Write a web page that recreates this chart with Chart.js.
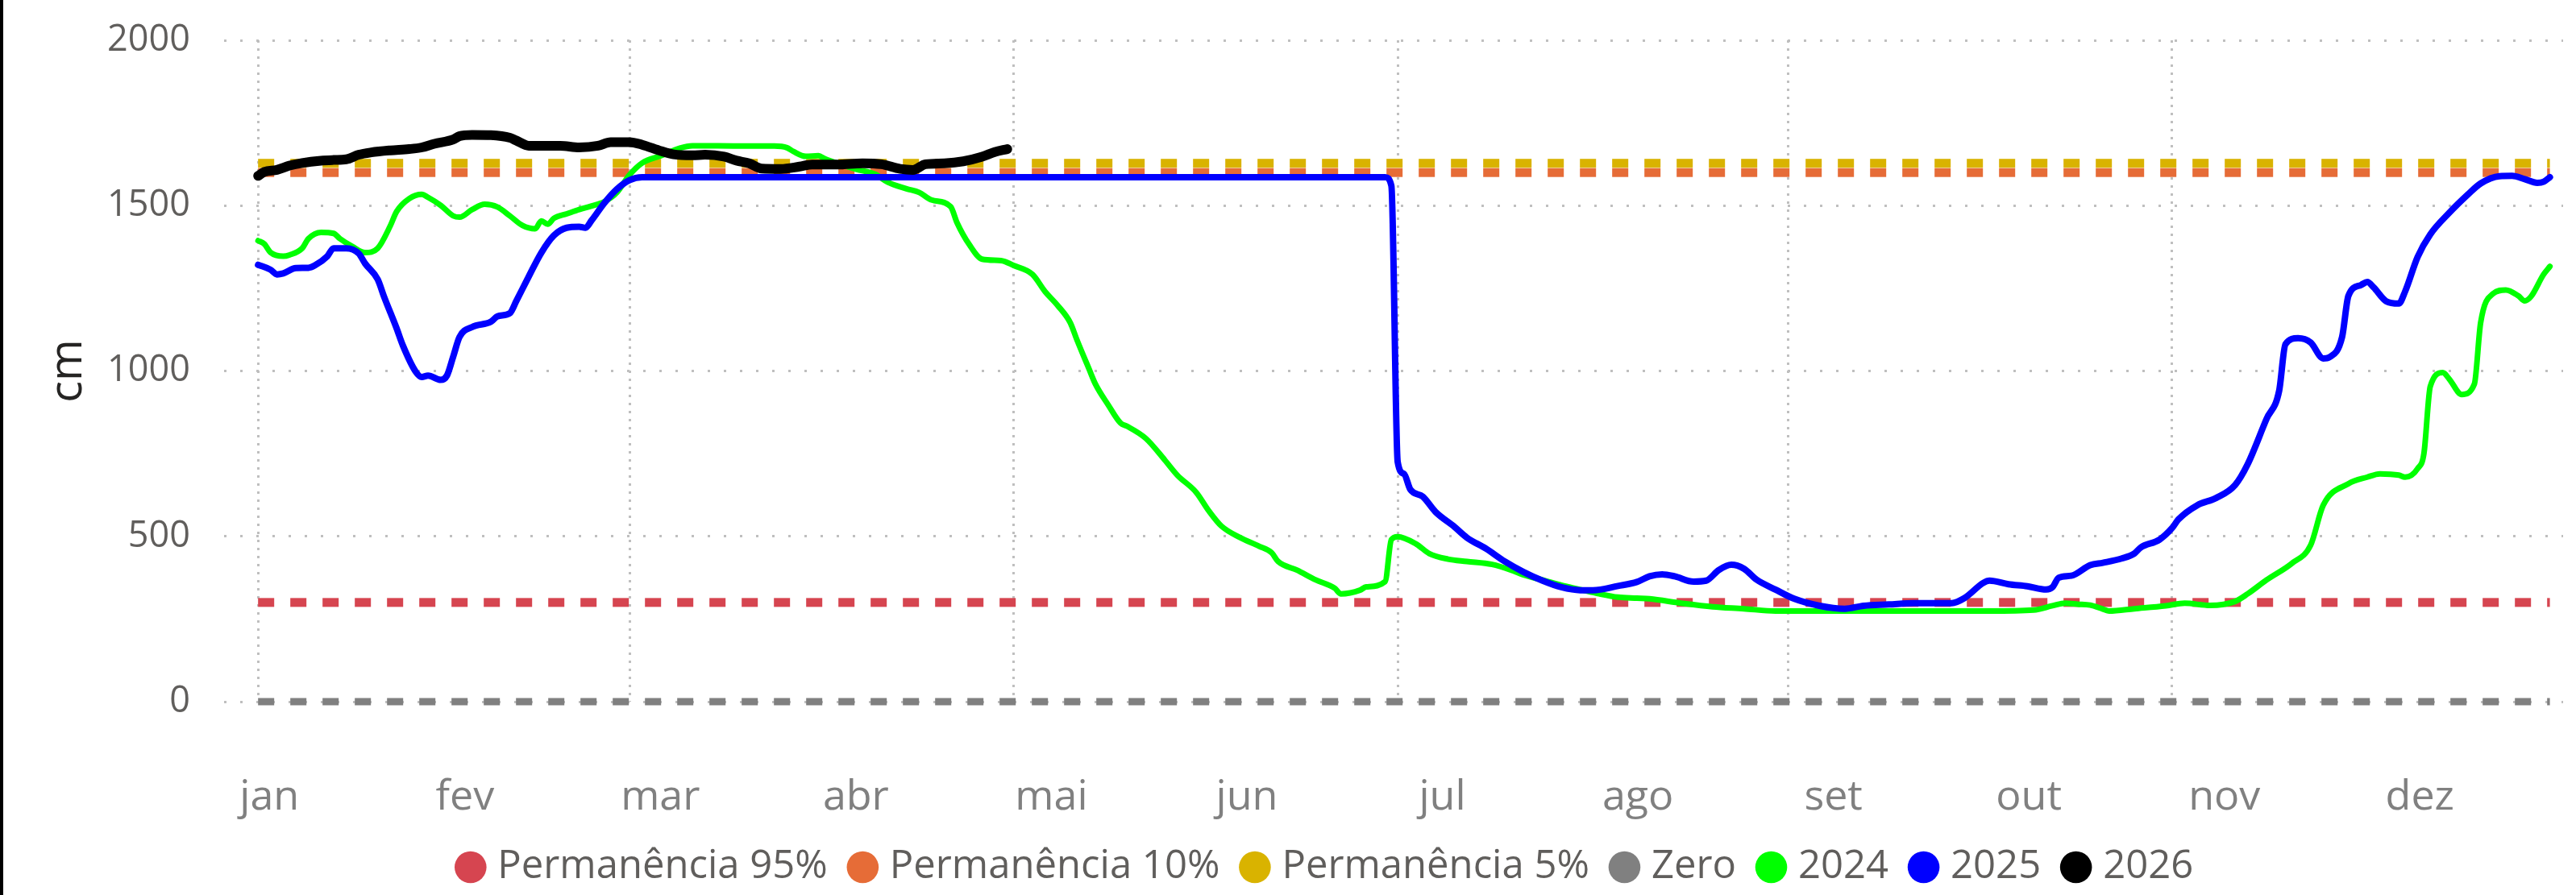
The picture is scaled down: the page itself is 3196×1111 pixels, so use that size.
<!DOCTYPE html>
<html>
<head>
<meta charset="utf-8">
<script src="https://cdn.jsdelivr.net/npm/chart.js@4.4.0/dist/chart.umd.min.js"></script>
<style>
  html, body { margin: 0; padding: 0; background: #fff; }
  #wrap { position: relative; width: 3196px; height: 1111px; }
  #edge { position: absolute; left: 0; top: 0; width: 4px; height: 1111px; background: #000; }
  canvas { position: absolute; left: 0; top: 0; }
</style>
</head>
<body>
<div id="wrap">
  <canvas id="chart" width="3196" height="1111"></canvas>
  <div id="edge"></div>
</div>
<script>
const monthLabels = ['jan', 'fev', 'mar', 'abr', 'mai', 'jun', 'jul', 'ago', 'set', 'out', 'nov', 'dez'];
const monthLengths = [31, 28, 31, 30, 31, 30, 31, 31, 30, 31, 30, 31];
const yTicks = [0, 500, 1000, 1500, 2000];

// reference levels (cm), drawn across the whole year
const refDays = [0, 364];
const perm95 = 300;
const perm10 = 1600;
const perm5 = 1628;
const zeroLevel = 0;

// day of year -> level (cm)
const days2024 = [0, 1, 2, 4, 5, 7, 8, 10, 12, 13, 15, 17, 19, 21, 22, 24, 26, 27, 29, 31, 32, 34, 36, 38, 40, 42, 44, 45, 46, 47,
  49, 51, 53, 55, 57, 59, 61, 64, 67, 69, 73, 78, 82, 84, 85, 87, 89, 90, 92, 95, 98, 100, 103, 105, 107, 110, 111, 113, 115, 118,
  120, 123, 125, 127, 129, 130, 132, 133, 135, 137, 138, 141, 144, 146, 149, 151, 153, 156, 159, 161, 162, 165, 168, 171, 172, 175, 176, 179, 180, 181,
  184, 186, 189, 192, 196, 199, 201, 204, 207, 210, 213, 216, 219, 221, 226, 231, 236, 241, 246, 256, 265, 275, 282, 285, 287, 289, 291, 293, 294, 298,
  303, 306, 310, 314, 316, 319, 323, 326, 328, 332, 335, 337, 340, 341, 343, 344, 345, 347, 348, 350, 352, 353, 355, 357, 359, 360, 361, 363, 364];
const level2024 = [1394, 1384, 1358, 1347, 1351, 1371, 1400, 1419, 1416, 1400, 1376, 1358, 1371, 1439, 1482, 1521, 1534, 1525, 1501, 1469, 1465, 1488, 1504, 1496, 1469, 1440, 1430, 1454, 1444, 1462,
  1475, 1488, 1499, 1512, 1540, 1593, 1629, 1651, 1674, 1681, 1681, 1680, 1680, 1675, 1664, 1649, 1651, 1642, 1628, 1610, 1595, 1571, 1551, 1540, 1517, 1497, 1449, 1381, 1338, 1334,
  1319, 1292, 1240, 1198, 1146, 1097, 1005, 960, 898, 842, 833, 796, 731, 685, 633, 577, 531, 496, 470, 450, 424, 398, 368, 343, 326, 337, 347, 363, 490, 499,
  476, 448, 431, 424, 415, 398, 383, 368, 352, 339, 326, 316, 313, 311, 298, 287, 281, 274, 274, 274, 274, 274, 277, 290, 298, 295, 292, 280, 274, 281,
  290, 298, 291, 303, 326, 368, 418, 473, 594, 659, 679, 689, 685, 679, 705, 751, 953, 995, 976, 929, 960, 1146, 1234, 1245, 1227, 1212, 1225, 1292, 1316];

const days2025 = [0, 2, 3, 4, 6, 8, 9, 11, 12, 14, 16, 17, 19, 20, 22, 23, 25, 26, 27, 29, 30, 31, 32, 34, 37, 38, 40, 41, 43, 45,
  47, 49, 51, 52, 53, 55, 57, 59, 61, 179, 180, 181, 182, 183, 185, 187, 190, 192, 195, 198, 201, 204, 207, 210, 212, 216, 219, 221, 223, 225,
  228, 230, 232, 234, 236, 238, 241, 244, 248, 252, 255, 259, 263, 269, 271, 274, 275, 278, 281, 284, 285, 286, 288, 291, 293, 296, 298, 299, 302, 304,
  305, 308, 311, 314, 316, 319, 321, 322, 324, 326, 328, 329, 331, 332, 334, 335, 336, 338, 340, 341, 343, 345, 348, 351, 353, 356, 358, 360, 362, 363, 364];
const level2025 = [1321, 1306, 1292, 1295, 1311, 1312, 1319, 1347, 1371, 1371, 1355, 1325, 1277, 1225, 1129, 1077, 999, 982, 986, 973, 986, 1044, 1103, 1133, 1149, 1165, 1175, 1211, 1286, 1358,
  1410, 1433, 1436, 1433, 1456, 1508, 1550, 1577, 1586, 1586, 1560, 725, 689, 642, 620, 574, 529, 496, 463, 424, 392, 366, 346, 337, 337, 350, 362, 379, 385, 379,
  363, 366, 398, 414, 402, 369, 339, 311, 290, 281, 290, 294, 298, 298, 313, 359, 366, 355, 349, 339, 346, 375, 381, 413, 420, 433, 448, 466, 490, 525,
  551, 594, 616, 655, 718, 855, 940, 1081, 1099, 1086, 1038, 1042, 1103, 1227, 1260, 1269, 1253, 1211, 1204, 1240, 1345, 1413, 1478, 1534, 1567, 1589, 1590, 1580, 1569, 1572, 1586];

const days2026 = [0, 1, 3, 5, 7, 10, 12, 14, 16, 18, 21, 24, 26, 28, 31, 32, 34, 37, 40, 41, 43, 46, 48, 51, 54, 56, 59, 61, 64, 66,
  69, 71, 74, 76, 78, 80, 83, 86, 88, 92, 96, 99, 102, 104, 106, 109, 112, 115, 117, 119];
const level2026 = [1590, 1602, 1608, 1621, 1629, 1636, 1638, 1640, 1654, 1661, 1667, 1671, 1676, 1687, 1700, 1710, 1714, 1713, 1705, 1697, 1681, 1681, 1681, 1676, 1681, 1692, 1692, 1684, 1665, 1655,
  1652, 1654, 1648, 1636, 1628, 1612, 1611, 1618, 1624, 1624, 1628, 1625, 1611, 1608, 1625, 1628, 1634, 1648, 1662, 1671];

Chart.defaults.font.family = "'Open Sans', sans-serif";

const toPoints = (days, values) => days.map((d, i) => ({ x: d, y: values[i] }));
const flat = (v) => refDays.map((d) => ({ x: d, y: v }));

const monthStarts = monthLengths.map((len, i) => monthLengths.slice(0, i).reduce((a, b) => a + b, 0));
const gridDays = monthStarts.filter((d, i) => i % 2 === 0);
// month names sit evenly spaced, a little right of the month starts
const labelStart = 1.8;
const labelStep = 31.05;
const xMin = -5.4;
const xMax = 366.1;
const gridColor = '#BFBFBF';

const dashed = (label, color, value, width, order) => ({
  label,
  data: flat(value),
  borderColor: color,
  backgroundColor: color,
  borderWidth: width,
  borderDash: [20, 20],
  borderCapStyle: 'butt',
  pointRadius: 0,
  clip: false,
  order,
});

const solid = (label, color, days, values, width, order) => ({
  label,
  data: toPoints(days, values),
  borderColor: color,
  backgroundColor: color,
  borderWidth: width,
  borderCapStyle: 'round',
  borderJoinStyle: 'round',
  cubicInterpolationMode: 'monotone',
  pointRadius: 0,
  clip: false,
  order,
});

new Chart(document.getElementById('chart'), {
  type: 'line',
  data: {
    datasets: [
      dashed('Permanência 95%', '#D64550', perm95, 11, 7),
      dashed('Permanência 10%', '#E66C37', perm10, 11, 6),
      dashed('Permanência 5%', '#D9B300', perm5, 11, 5),
      dashed('Zero', '#808080', zeroLevel, 9, 4),
      solid('2024', '#00FF00', days2024, level2024, 7, 3),
      solid('2025', '#0000FF', days2025, level2025, 8, 2),
      solid('2026', '#000000', days2026, level2026, 12, 1),
    ],
  },
  options: {
    responsive: false,
    animation: false,
    devicePixelRatio: 1,
    layout: {
      padding: { left: 116, right: 16, top: 50, bottom: 0 },
    },
    scales: {
      x: {
        type: 'linear',
        min: xMin,
        max: xMax,
        afterBuildTicks: (scale) => {
          scale.ticks = gridDays.map((v) => ({ value: v }));
        },
        afterFit: (scale) => {
          scale.height = 0;
        },
        ticks: { display: false },
        grid: { color: gridColor, lineWidth: 3, drawTicks: false },
        border: { display: false, dash: [3, 7] },
      },
      months: {
        type: 'linear',
        position: 'bottom',
        min: xMin,
        max: xMax,
        afterBuildTicks: (scale) => {
          scale.ticks = monthLabels.map((m, i) => ({ value: labelStart + i * labelStep }));
        },
        afterFit: (scale) => {
          scale.height = 146.5;
        },
        ticks: {
          autoSkip: false,
          maxRotation: 0,
          padding: 0,
          color: '#808080',
          font: { size: 52 },
          callback: (value, index) => monthLabels[index],
        },
        grid: { display: false, drawOnChartArea: false, drawTicks: true, tickLength: 88, tickColor: 'rgba(0,0,0,0)' },
        border: { display: false },
      },
      y: {
        min: 0,
        max: 2000,
        afterBuildTicks: (scale) => {
          scale.ticks = yTicks.map((v) => ({ value: v }));
        },
        afterFit: (scale) => {
          scale.width = 162;
        },
        ticks: {
          padding: 0,
          color: '#605E5C',
          font: { size: 45 },
          callback: (value) => String(value),
        },
        title: {
          display: true,
          text: 'cm',
          color: '#252423',
          font: { size: 56 },
          padding: { top: -64.6, bottom: 0 },
        },
        grid: { color: gridColor, lineWidth: 3, drawTicks: true, tickLength: 42, tickColor: 'rgba(0,0,0,0)' },
        border: { display: false, dash: [3, 17] },
      },
    },
    plugins: {
      legend: {
        position: 'bottom',
        labels: {
          usePointStyle: true,
          pointStyle: 'circle',
          boxWidth: 18,
          boxHeight: 28,
          padding: 34.5,
          color: '#605E5C',
          font: { size: 49 },
          sort: (a, b) => a.datasetIndex - b.datasetIndex,
          generateLabels: (chart) =>
            Chart.defaults.plugins.legend.labels.generateLabels(chart).map((item) => ({
              ...item,
              lineWidth: 0,
              lineDash: [],
              fillStyle: item.strokeStyle,
            })),
        },
      },
      tooltip: { enabled: false },
    },
  },
});
</script>
</body>
</html>
